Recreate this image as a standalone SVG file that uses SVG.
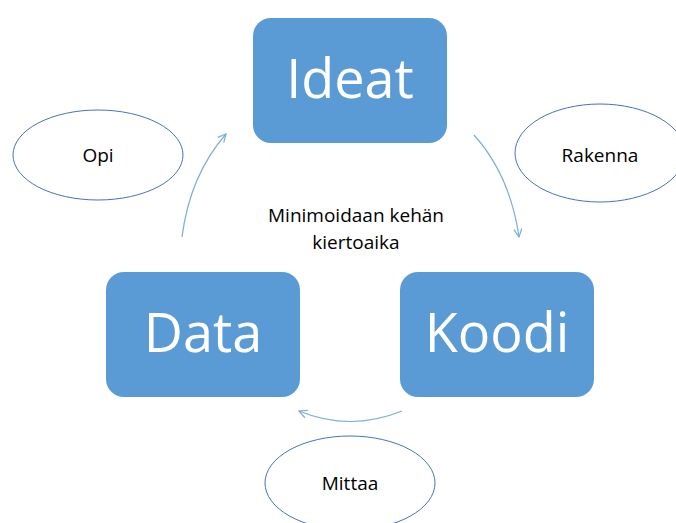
<svg xmlns="http://www.w3.org/2000/svg" width="676" height="523" viewBox="0 0 676 523">
<style>
.box{fill:#5b9bd5;}
.big{font-family:"Open Sans","Noto Sans",sans-serif;font-size:54px;fill:#fff;text-anchor:middle;}
.ell{fill:#fff;stroke:#4472c4;stroke-width:1;}
.lbl{font-family:"Open Sans","Noto Sans",sans-serif;font-size:19px;fill:#000;text-anchor:middle;}
.con{fill:none;stroke:#5b9bd5;stroke-width:1.2;opacity:0.8;}
</style>
<defs>
<marker id="ah" viewBox="0 0 10 10" refX="9" refY="5" markerWidth="10" markerHeight="10" markerUnits="userSpaceOnUse" orient="auto">
<path d="M1,1 L9,5 L1,9" fill="none" stroke="#5b9bd5" stroke-width="1.2"/>
</marker>
</defs>
<rect width="676" height="523" fill="#fff"/>
<g id="connectors">
<path class="con" d="M474,135 Q510,175 519,237" marker-end="url(#ah)"/>
<path class="con" d="M402,411 Q350,432 299,411" marker-end="url(#ah)"/>
<path class="con" d="M182,237 Q190,175 226,134" marker-end="url(#ah)"/>
</g>
<g id="ideat"><rect class="box" x="253" y="18" width="194" height="125" rx="18"/><text class="big" x="350" y="98">Ideat</text></g>
<g id="data"><rect class="box" x="106" y="272" width="194" height="125" rx="18"/><text class="big" x="203" y="352">Data</text></g>
<g id="koodi"><rect class="box" x="400" y="272" width="194" height="125" rx="18"/><text class="big" x="497" y="352">Koodi</text></g>
<g id="opi"><ellipse class="ell" cx="98" cy="155" rx="85" ry="45"/><text class="lbl" x="98" y="162">Opi</text></g>
<g id="rakenna"><ellipse class="ell" cx="600" cy="153" rx="85" ry="49"/><text class="lbl" x="600" y="162">Rakenna</text></g>
<g id="mittaa"><ellipse class="ell" cx="350" cy="483" rx="85" ry="47"/><text class="lbl" x="350" y="490">Mittaa</text></g>
<g id="note"><text class="lbl" x="356" y="222">Minimoidaan kehän</text><text class="lbl" x="356" y="249">kiertoaika</text></g>
</svg>
